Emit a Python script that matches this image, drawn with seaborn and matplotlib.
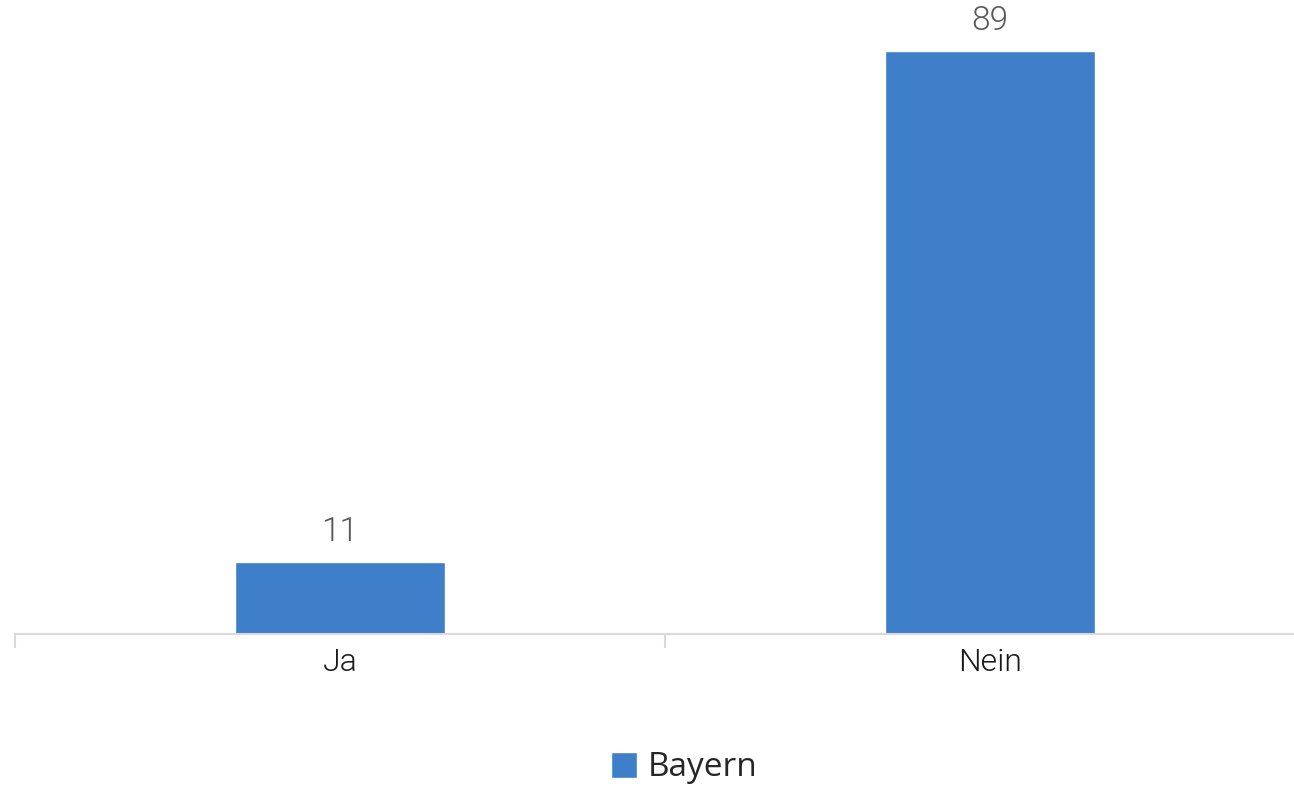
import matplotlib
matplotlib.use("Agg")
import matplotlib.pyplot as plt
import seaborn as sns
import pandas as pd
from matplotlib.patches import Patch

categories = ["Ja", "Nein"]
values = [11, 89]
series = "Bayern"
bar_color = "#3F7FC9"

sns.set_theme(style="white")
plt.rcParams["font.family"] = ["Roboto", "DejaVu Sans"]

df = pd.DataFrame({"antwort": categories, "wert": values})

fig = plt.figure(figsize=(12.94, 7.89), dpi=100)
ax = fig.add_axes([15 / 1294, 155 / 789, 1300 / 1294, 634 / 789])

sns.barplot(data=df, x="antwort", y="wert", color=bar_color, width=0.323,
            saturation=1, ax=ax)

ax.set_xlim(-0.5, 1.5)
ax.set_ylim(0, 96.8)
ax.set_xlabel("")
ax.set_ylabel("")
ax.set_yticks([])

for s in ["top", "right", "left"]:
    ax.spines[s].set_visible(False)
ax.spines["bottom"].set_color("#d9d9d9")
ax.spines["bottom"].set_linewidth(1.5)

# category boundary ticks
ax.set_xticks([-0.5, 0.5, 1.5], minor=True)
ax.tick_params(axis="x", which="minor", length=10, width=1.5, color="#d9d9d9",
               bottom=True)
ax.tick_params(axis="x", which="major", length=0, pad=10, labelsize=23,
               labelcolor="#1a1a1a")
for lbl in ax.get_xticklabels():
    lbl.set_fontweight(300)

for c in ax.containers:
    ax.bar_label(c, labels=[str(v) for v in values], padding=10, fontsize=24,
                 color="#595959", fontweight=300)

handles = [Patch(facecolor=bar_color, label=series)]
fig.legend(handles=handles, loc="center", bbox_to_anchor=(684 / 1294, 1 - 768 / 789),
           frameon=False, handlelength=0.8, handleheight=0.8,
           handletextpad=0.3, prop={"family": ["Open Sans", "DejaVu Sans"], "size": 24})

fig.savefig("out.png", dpi=100)
